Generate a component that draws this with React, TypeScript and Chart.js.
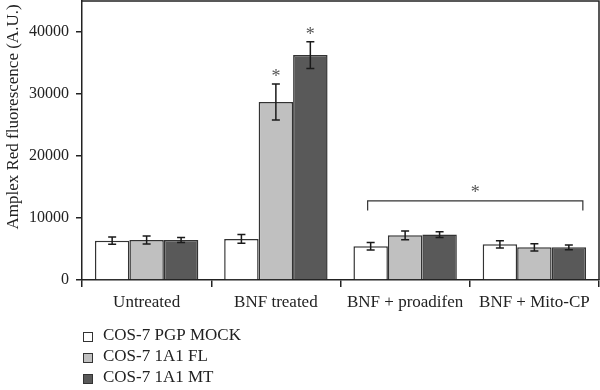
import React, { useEffect, useRef } from "react";
import { Chart, registerables } from "chart.js";

Chart.register(...registerables);

const categories = ["Untreated", "BNF treated", "BNF + proadifen", "BNF + Mito-CP"];
const seriesNames = ["COS-7 PGP MOCK", "COS-7 1A1 FL", "COS-7 1A1 MT"];
const mockValues = [6350, 6620, 5430, 5750];
const mockErrors = [600, 700, 600, 600];
const flValues = [6460, 28700, 7200, 5270];
const flErrors = [650, 2900, 700, 580];
const mtValues = [6460, 36280, 7320, 5270];
const mtErrors = [400, 2150, 450, 380];
const yTickValues = [0, 10000, 20000, 30000, 40000];
const yMax = 45000;
const starredBars = [
  [1, 1],
  [2, 1],
];
const bracketLevel = 12760;
const bracketLegLevel = 11200;
const yTitle = "Amplex Red fluorescence (A.U.)";

const FONT = "'Liberation Serif', 'Times New Roman', serif";
const INK = "#222222";
const fills = ["#ffffff", "#c0c0c0", "#595959"];
const errorsBySeries = [mockErrors, flErrors, mtErrors];

export default function App() {
  const ref = useRef<HTMLCanvasElement | null>(null);

  useEffect(() => {
    const canvas = ref.current;
    if (!canvas) return;

    const extras = {
      id: "extras",
      afterDatasetsDraw(chart: any) {
        const ctx = chart.ctx;
        const ys = chart.scales.y;
        const xs = chart.scales.x;
        const area = chart.chartArea;
        ctx.save();
        // frame top & right
        ctx.strokeStyle = INK;
        ctx.lineWidth = 1.5;
        ctx.beginPath();
        ctx.moveTo(area.left, area.top);
        ctx.lineTo(area.right, area.top);
        ctx.lineTo(area.right, area.bottom);
        ctx.stroke();
        // error bars
        ctx.lineWidth = 1.5;
        ctx.strokeStyle = "#1a1a1a";
        chart.data.datasets.forEach((ds: any, di: number) => {
          const meta = chart.getDatasetMeta(di);
          meta.data.forEach((bar: any, i: number) => {
            const v = ds.data[i];
            const e = errorsBySeries[di][i];
            const x = bar.x;
            const yt = ys.getPixelForValue(v + e);
            const yb = ys.getPixelForValue(v - e);
            ctx.beginPath();
            ctx.moveTo(x, yt);
            ctx.lineTo(x, yb);
            ctx.moveTo(x - 4, yt);
            ctx.lineTo(x + 4, yt);
            ctx.moveTo(x - 4, yb);
            ctx.lineTo(x + 4, yb);
            ctx.stroke();
          });
        });
        // asterisks
        ctx.fillStyle = "#555555";
        ctx.font = `18px ${FONT}`;
        ctx.textAlign = "center";
        ctx.textBaseline = "alphabetic";
        starredBars.forEach(([di, i]) => {
          const bar = chart.getDatasetMeta(di).data[i];
          const v = chart.data.datasets[di].data[i];
          const yt = ys.getPixelForValue(v + errorsBySeries[di][i]);
          ctx.fillText("*", bar.x, yt - 2);
        });
        // bracket
        const bx1 = xs.getPixelForValue(1.71);
        const bx2 = xs.getPixelForValue(3.375);
        const by = ys.getPixelForValue(bracketLevel);
        const byl = ys.getPixelForValue(bracketLegLevel);
        ctx.strokeStyle = "#333333";
        ctx.lineWidth = 1.2;
        ctx.beginPath();
        ctx.moveTo(bx1, byl);
        ctx.lineTo(bx1, by);
        ctx.lineTo(bx2, by);
        ctx.lineTo(bx2, byl);
        ctx.stroke();
        ctx.fillText("*", (bx1 + bx2) / 2, by - 3);
        ctx.restore();
      },
      afterDraw(chart: any) {
        const ctx = chart.ctx;
        ctx.save();
        // y title
        ctx.fillStyle = INK;
        ctx.font = `17px ${FONT}`;
        ctx.textAlign = "center";
        ctx.textBaseline = "middle";
        ctx.translate(14, 117);
        ctx.rotate(-Math.PI / 2);
        ctx.fillText(yTitle, 0, 0);
        ctx.restore();
        // legend
        ctx.save();
        ctx.font = `17px ${FONT}`;
        ctx.textBaseline = "middle";
        ctx.textAlign = "left";
        seriesNames.forEach((name, i) => {
          const cy = 336 + i * 21;
          ctx.fillStyle = fills[i];
          ctx.fillRect(83, cy - 4, 9, 9);
          ctx.strokeStyle = "#333333";
          ctx.lineWidth = 1;
          ctx.strokeRect(83.5, cy - 3.5, 9, 9);
          ctx.fillStyle = INK;
          ctx.fillText(name, 103, cy);
        });
        ctx.restore();
      },
    };

    const chart = new Chart(canvas, {
      type: "bar",
      data: {
        labels: categories,
        datasets: [
          { label: seriesNames[0], data: mockValues },
          { label: seriesNames[1], data: flValues },
          { label: seriesNames[2], data: mtValues },
        ].map((d, i) => ({
          ...d,
          backgroundColor: fills[i],
          borderColor: "#333333",
          borderWidth: 1.5,
          categoryPercentage: 0.8,
          barPercentage: 1.0,
        })),
      },
      options: {
        animation: false,
        responsive: false,
        devicePixelRatio: 1,
        layout: { padding: { top: 1, right: 1, left: 0, bottom: 0 } },
        plugins: { legend: { display: false }, tooltip: { enabled: false } },
        scales: {
          x: {
            afterFit(scale: any) {
              scale.height = 110;
              scale.paddingLeft = 0;
              scale.paddingRight = 0;
            },
            grid: {
              display: true,
              drawOnChartArea: false,
              offset: true,
              tickLength: 7,
              color: INK,
              lineWidth: 1.5,
            },
            border: { display: true, color: INK, width: 1.5 },
            ticks: {
              color: INK,
              font: { family: FONT, size: 17 },
              padding: 5,
              maxRotation: 0,
              autoSkip: false,
            },
          },
          y: {
            min: 0,
            max: yMax,
            afterFit(scale: any) {
              scale.width = 82;
              scale.paddingTop = 0;
              scale.paddingBottom = 0;
            },
            afterBuildTicks(scale: any) {
              scale.ticks = yTickValues.map((v) => ({ value: v }));
            },
            grid: {
              display: true,
              drawOnChartArea: false,
              tickLength: 6,
              color: INK,
              lineWidth: 1.5,
            },
            border: { display: true, color: INK, width: 1.5 },
            ticks: {
              color: INK,
              font: { family: FONT, size: 16 },
              padding: 7,
              callback: (v: any) => String(v),
            },
          },
        },
      },
      plugins: [extras],
    });

    return () => chart.destroy();
  }, []);

  return (
    <div style={{ position: "fixed", left: 0, top: 0, width: 600, height: 390, background: "#fff" }}>
      <canvas ref={ref} width={600} height={390} style={{ width: 600, height: 390, display: "block" }} />
    </div>
  );
}
